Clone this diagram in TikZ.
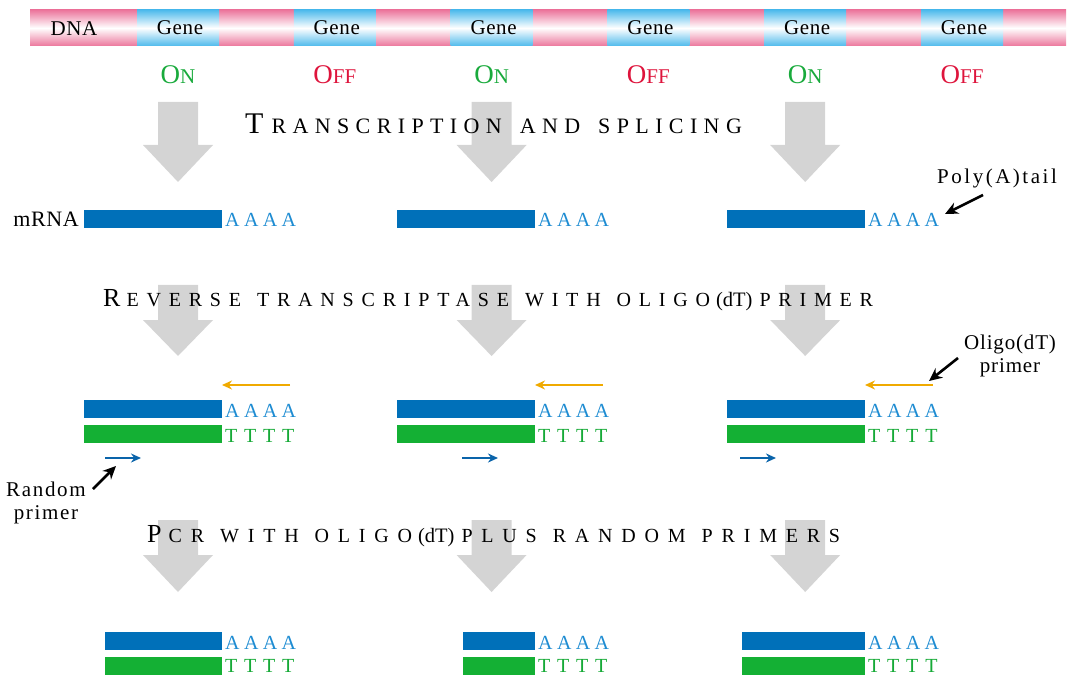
\documentclass[tikz,border=0pt]{standalone}
\usepackage{fontspec}
\setmainfont{Liberation Serif}
\usetikzlibrary{arrows.meta}
\definecolor{pinkD}{RGB}{236,118,156}
\definecolor{geneB}{RGB}{78,186,236}
\definecolor{barblue}{RGB}{0,112,185}
\definecolor{txtblue}{RGB}{30,140,210}
\definecolor{bargreen}{RGB}{20,176,52}
\definecolor{txtgreen}{RGB}{22,170,55}
\definecolor{onG}{RGB}{25,170,60}
\definecolor{offR}{RGB}{222,20,60}
\definecolor{arrgray}{RGB}{212,212,212}
\definecolor{orangeP}{RGB}{240,170,0}
\definecolor{primB}{RGB}{10,100,170}
% #1 size, #2 letterspace, #3 text
\newcommand{\sca}[3]{{\fontsize{#1}{#1}\selectfont\addfontfeature{LetterSpace=#2}#3}}
\newcommand{\capbig}[2]{{\fontsize{#1}{#1}\selectfont #2}}
\newcommand{\dtx}{\hspace{6pt}{\fontsize{20.5}{20.5}\selectfont(dT)}\hspace{7pt}}
\newcommand{\onoff}[2]{{\fontsize{27}{27}\selectfont #1}{\fontsize{21}{21}\selectfont #2}}
\begin{document}
\begin{tikzpicture}[x=1pt,y=-1pt,
  lab/.style={font=\fontsize{21}{21}\selectfont\addfontfeature{LetterSpace=3}, inner sep=0pt},
  tail/.style={font=\fontsize{20}{20}\selectfont\addfontfeature{LetterSpace=22}, inner sep=0pt, anchor=base west},
  ttail/.style={font=\fontsize{20}{20}\selectfont\addfontfeature{LetterSpace=34}, inner sep=0pt, anchor=base west},
  bblue/.style={fill=barblue, draw=none},
  bgreen/.style={fill=bargreen, draw=none},
  bigarrow/.style={fill=arrgray, draw=none},
  ptr/.style={draw=black, line width=2.6pt, -{Stealth[length=13pt,width=12pt]}},
  oligo/.style={draw=orangeP, line width=2.6pt, -{Stealth[length=10pt,width=9pt]}},
  rprim/.style={draw=primB, line width=2.6pt, -{Stealth[length=10pt,width=9pt]}},
  title/.style={inner sep=0pt, anchor=base west}
]
\useasboundingbox (0,0) rectangle (1068,676);
% DNA bar
\shade[top color=pinkD, bottom color=pinkD, middle color=white] (30,10) rectangle (1066,46);
\foreach \i in {0,...,5}{
  \pgfmathsetmacro{\c}{178+156.8*\i}
  \shade[top color=geneB, bottom color=geneB, middle color=white] (\c-41,10) rectangle (\c+41,46);
  \node[lab] (g\i) at (\c+2,28) {Gene};
}
\node[lab] (dna) at (74,29) {DNA};
% ON / OFF
\node[inner sep=0pt, text=onG]  (s0) at (178,75) {\onoff{O}{N}};
\node[inner sep=0pt, text=offR] (s1) at (334.8,75) {\onoff{O}{FF}};
\node[inner sep=0pt, text=onG]  (s2) at (491.6,75) {\onoff{O}{N}};
\node[inner sep=0pt, text=offR] (s3) at (648.4,75) {\onoff{O}{FF}};
\node[inner sep=0pt, text=onG]  (s4) at (805.2,75) {\onoff{O}{N}};
\node[inner sep=0pt, text=offR] (s5) at (962,75) {\onoff{O}{FF}};
% big gray arrows
\foreach \c in {178,491.6,805.2}{
  \foreach \t/\m/\b in {102/145/182, 285/320/356, 520/555/592}{
    \fill[bigarrow] (\c-20,\t) -- (\c+20,\t) -- (\c+20,\m) -- (\c+35,\m) -- (\c,\b) -- (\c-35,\m) -- (\c-20,\m) -- cycle;
  }
}
% titles
\node[title] (t1) at (245,134) {\capbig{30}{T}\hspace{8pt}\sca{22}{29}{RANSCRIPTION}\hspace{18pt}\sca{22}{29}{AND}\hspace{18pt}\sca{22}{29}{SPLICING}};
\node[title] (t2) at (103,306) {\capbig{26}{R}\hspace{6pt}\sca{20}{39}{EVERSE}\hspace{16pt}\sca{20}{39}{TRANSCRIPTASE}\hspace{16pt}\sca{20}{39}{WITH}\hspace{16pt}\sca{20}{39}{OLIGO}\dtx\sca{20}{39}{PRIMER}};
\node[title] (t3) at (147,542) {\capbig{26}{P}\hspace{7pt}\sca{20}{44}{CR}\hspace{16pt}\sca{20}{44}{WITH}\hspace{16pt}\sca{20}{44}{OLIGO}\dtx\sca{20}{44}{PLUS}\hspace{16pt}\sca{20}{44}{RANDOM}\hspace{16pt}\sca{20}{44}{PRIMERS}};
% mRNA row
\node[lab, anchor=east, font=\fontsize{22}{22}\selectfont\addfontfeature{LetterSpace=3}] (mrna) at (79,219) {mRNA};
\foreach \n/\l/\r in {1/84/222, 2/397/535, 3/727/865}{
  \fill[bblue] (\l,210) rectangle (\r,228);
  \node[tail, text=txtblue] (ma\n) at (\r+3,227) {AAAA};
}
\node[lab, anchor=base west, font=\fontsize{21}{21}\selectfont\addfontfeature{LetterSpace=12}] (poly) at (937,184) {Poly(A)tail};
\coordinate (pa0) at (983,195);
\coordinate (pa1) at (945,214);
\draw[ptr] (pa0) -- (pa1);
% reverse transcription row
\foreach \n/\l/\r in {1/84/222, 2/397/535, 3/727/865}{
  \fill[bblue] (\l,400) rectangle (\r,418);
  \node[tail, text=txtblue] (ra\n) at (\r+3,417) {AAAA};
  \fill[bgreen] (\l,425) rectangle (\r,443);
  \node[ttail, text=txtgreen] (rt\n) at (\r+3,442) {TTTT};
  \coordinate (os\n) at (\r+68,385);
  \coordinate (oe\n) at (\r,385);
  \draw[oligo] (os\n) -- (oe\n);
}
\foreach \n/\x in {1/105, 2/462, 3/740}{
  \coordinate (ps\n) at (\x,458);
  \coordinate (pe\n) at (\x+36,458);
  \draw[rprim] (ps\n) -- (pe\n);
}
\node[lab, align=center, font=\fontsize{21}{23}\selectfont\addfontfeature{LetterSpace=4}] (olab) at (1010,356) {Oligo(dT)\\primer};
\coordinate (ol0) at (958,358);
\coordinate (ol1) at (929,381);
\draw[ptr] (ol0) -- (ol1);
\node[lab, align=center, font=\fontsize{21}{23}\selectfont\addfontfeature{LetterSpace=8}] (rlab) at (46,503) {Random\\primer};
\coordinate (rp0) at (93,489);
\coordinate (rp1) at (116,466);
\draw[ptr] (rp0) -- (rp1);
% PCR row
\foreach \n/\l/\r in {1/105/222, 2/463/535, 3/742/865}{
  \fill[bblue] (\l,632) rectangle (\r,650);
  \node[tail, text=txtblue] (pa\n) at (\r+3,649) {AAAA};
  \fill[bgreen] (\l,657) rectangle (\r,675);
  \node[ttail, text=txtgreen] (pt\n) at (\r+3,672) {TTTT};
}
\end{tikzpicture}
\end{document}
